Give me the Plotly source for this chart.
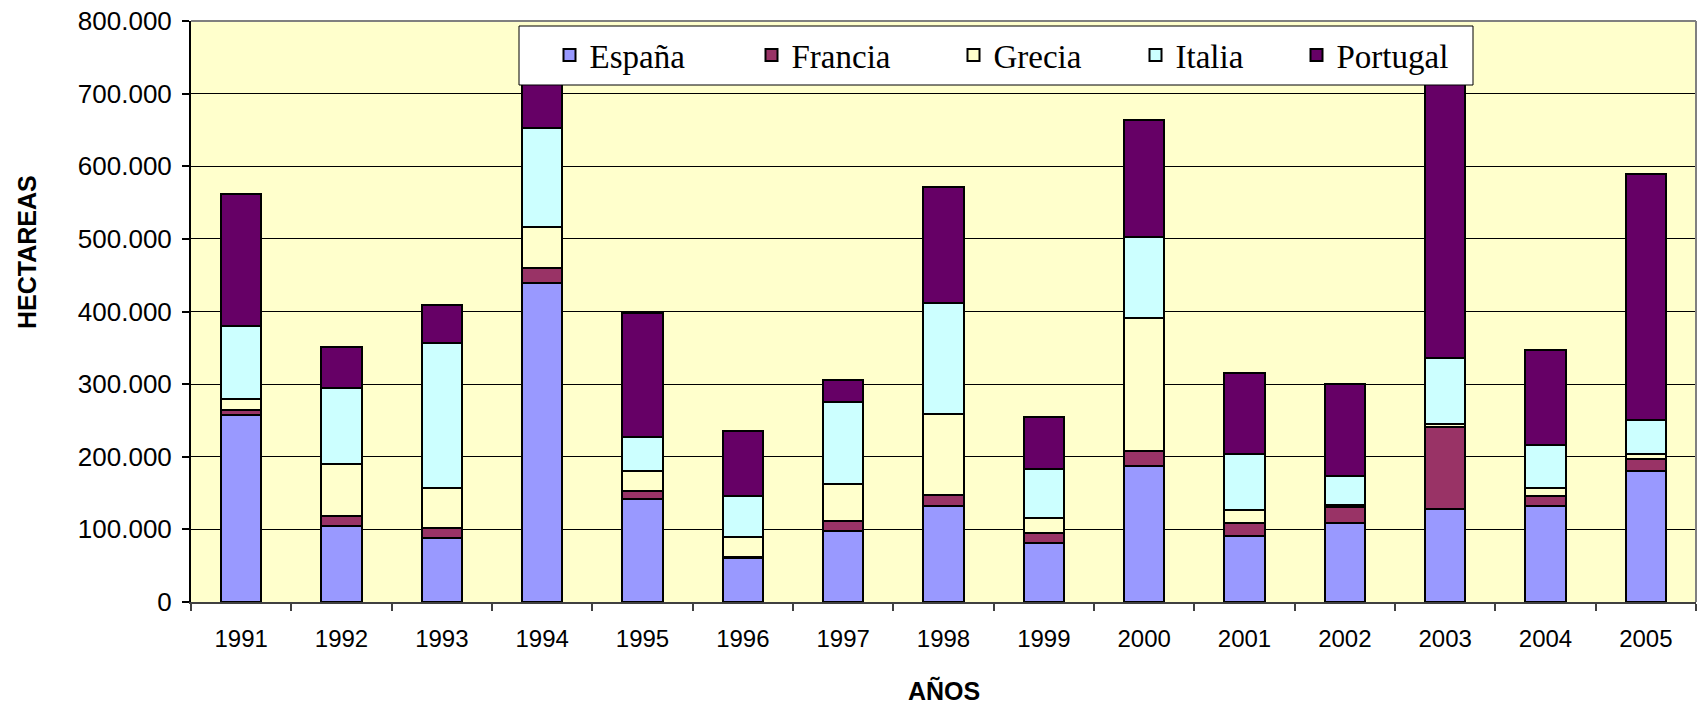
import plotly.graph_objects as go

years = [str(y) for y in range(1991, 2006)]
espana = [258000, 104700, 88000, 438600, 141500, 60600, 98300, 132000, 81300, 187000, 91000, 108800, 128600, 132000, 180000]
francia = [7000, 14300, 14500, 21400, 11000, 2000, 13200, 15000, 14300, 20600, 17800, 22200, 112400, 14000, 17500]
grecia = [14000, 71600, 54500, 56500, 27500, 27000, 51500, 111500, 20400, 183400, 17200, 3000, 4700, 11000, 6900]
italia = [101000, 104400, 200000, 136000, 47000, 56500, 112500, 153000, 67700, 111800, 77400, 39500, 90300, 59800, 46600]
portugal = [181600, 56000, 51700, 77300, 171000, 89500, 30500, 160000, 71300, 160700, 112600, 126500, 425700, 130000, 338000]

series = [
    ("España", espana, "#9999FF"),
    ("Francia", francia, "#993366"),
    ("Grecia", grecia, "#FFFFCC"),
    ("Italia", italia, "#CCFFFF"),
    ("Portugal", portugal, "#660066"),
]
# swatch centres of the legend entries (page pixels)
legend_swatch_x = [568, 770, 972, 1154, 1315]

W, H = 1703, 704
L, R, T = 191, 7, 21
B = H - 602
pw = W - L - R
ph = H - T - B

def px(x):
    return (x - L) / pw

def py(y):
    return (H - B - y) / ph

fig = go.Figure()
legend_layouts = {}
for i, (name, vals, color) in enumerate(series):
    lname = "legend" if i == 0 else f"legend{i + 1}"
    fig.add_trace(go.Bar(
        x=years, y=vals, name=name, legend=lname,
        marker=dict(color=color, line=dict(color="#000000", width=2)),
    ))
    legend_layouts[lname] = dict(
        orientation="h", x=px(legend_swatch_x[i] - 18.5), y=py(55),
        xanchor="left", yanchor="middle",
        bgcolor="rgba(0,0,0,0)", borderwidth=0,
        font=dict(family="Liberation Serif, Times New Roman", size=33, color="#000000"),
    )

fig.update_layout(
    width=W, height=H, autosize=False,
    margin=dict(l=L, r=R, t=T, b=B, pad=0),
    barmode="stack", bargap=0.6,
    plot_bgcolor="#FFFFCC", paper_bgcolor="#FFFFFF",
    separators=",.",
    font=dict(family="Liberation Sans, Arial", size=24, color="#000000"),
    showlegend=True,
    xaxis=dict(
        type="category", showline=True, linecolor="#404040", linewidth=2,
        ticks="outside", tickson="boundaries", ticklen=7, tickcolor="#404040", tickwidth=1.5,
        showgrid=False, ticklabelstandoff=14, automargin=False,
        tickfont=dict(size=24),
    ),
    yaxis=dict(
        range=[0, 800000], tickvals=[0, 100000, 200000, 300000, 400000, 500000, 600000, 700000, 800000],
        tickformat=",d", showline=True, linecolor="#000000", linewidth=2,
        ticks="outside", ticklen=7, tickcolor="#000000", tickwidth=1.5,
        showgrid=True, gridcolor="#000000", gridwidth=1, zeroline=False,
        ticklabelstandoff=5, tickfont=dict(size=26), ticklabeloverflow="allow",
        automargin=False,
    ),
    shapes=[
        dict(type="rect", xref="paper", yref="paper", x0=px(519), x1=px(1473), y0=py(85), y1=py(26),
             fillcolor="#FFFFFF", line=dict(color="#000000", width=1), layer="above"),
        dict(type="line", xref="paper", yref="paper", x0=0, x1=1, y0=1, y1=1,
             line=dict(color="#808080", width=2), layer="above"),
        dict(type="line", xref="paper", yref="paper", x0=1, x1=1, y0=0, y1=1,
             line=dict(color="#808080", width=2), layer="above"),
    ],
    annotations=[
        dict(text="<b>HECTAREAS</b>", xref="paper", yref="paper", x=px(27), y=py(252),
             textangle=-90, showarrow=False, font=dict(size=25, color="#000000"),
             xanchor="center", yanchor="middle"),
        dict(text="<b>AÑOS</b>", xref="paper", yref="paper", x=0.5, y=py(690),
             showarrow=False, font=dict(size=25, color="#000000"),
             xanchor="center", yanchor="middle"),
    ],
    **legend_layouts,
)

fig.write_html("out.html", config={"displayModeBar": False},
               post_script="document.body.style.margin='0';")
